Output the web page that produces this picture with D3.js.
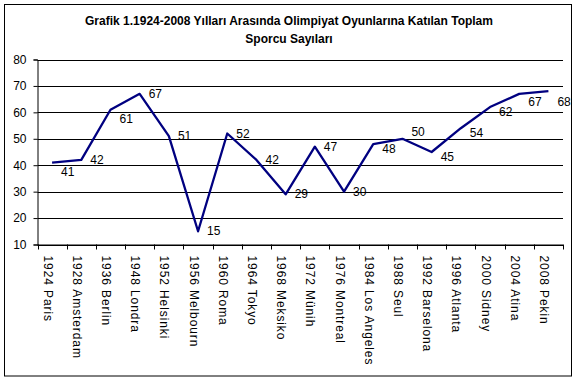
<!DOCTYPE html>
<html>
<head>
<meta charset="utf-8">
<script src="https://cdn.jsdelivr.net/npm/d3@7"></script>
<style>
  body { margin: 0; background: #fff; }
  svg text { font-family: Arial, "Liberation Sans", sans-serif; fill: #000; }
</style>
</head>
<body>
<div class="chart"></div>
<script>
// data
const games = ["1924 Paris", "1928 Amsterdam", "1936 Berlin", "1948 Londra", "1952 Helsinki",
  "1956 Melbourn", "1960 Roma", "1964 Tokyo", "1968 Meksiko", "1972 Münih", "1976 Montreal",
  "1984 Los Angeles", "1988 Seul", "1992 Barselona", "1996 Atlanta", "2000 Sidney",
  "2004 Atina", "2008 Pekin"];
const athletes = [41, 42, 61, 67, 51, 15, 52, 42, 29, 47, 30, 48, 50, 45, 54, 62, 67, 68];
const yTicks = [10, 20, 30, 40, 50, 60, 70, 80];
// vertical nudge of each data label (Excel placed some by hand)
const labelNudge = [9, 0, 9, 0, 0, 0, 0, 0, 0, 0, 0, 5, -7, 5, 5, 5, 8, 11];

const width = 576, height = 382;
const margin = {t:59.5, r:13, b:137.5, l:37.5};

const svg = d3.select(".chart").append("svg")
  .attr("width", width)
  .attr("height", height);

// outer frame
svg.append("rect")
  .attr("x", 4.5).attr("y", 4.5)
  .attr("width", 567).attr("height", 371.5)
  .attr("fill", "none").attr("stroke", "#000");

// title
const title = svg.append("text")
  .attr("text-anchor", "middle")
  .attr("font-size", 12)
  .attr("font-weight", "bold");
title.append("tspan").attr("x", 289).attr("y", 25)
  .text("Grafik 1.1924-2008 Yılları Arasında Olimpiyat Oyunlarına Katılan Toplam");
title.append("tspan").attr("x", 289).attr("y", 43)
  .text("Sporcu Sayıları");

const x = d3.scaleBand()
  .domain(games)
  .range([margin.l, width - margin.r]);

const y = d3.scaleLinear()
  .domain([10, 80])
  .range([height - margin.b, margin.t]);

// gridlines
svg.append("g")
  .selectAll("line")
  .data(yTicks)
  .join("line")
  .attr("x1", margin.l).attr("x2", width - margin.r)
  .attr("y1", d => Math.round(y(d)) + 0.5)
  .attr("y2", d => Math.round(y(d)) + 0.5)
  .attr("stroke", "#000");

// y axis
const yAxis = svg.append("g")
  .attr("transform", `translate(${margin.l},0)`)
  .call(d3.axisLeft(y).tickValues(yTicks).tickSize(4).tickPadding(7));
yAxis.selectAll("text").attr("font-size", 12).attr("font-family", null);
yAxis.selectAll("line").attr("stroke", "#000");
yAxis.select(".domain").attr("stroke", "#000");

// x axis: ticks between categories
const bottom = height - margin.b;
const xAxis = svg.append("g");
xAxis.append("line")
  .attr("x1", margin.l).attr("x2", width - margin.r)
  .attr("y1", bottom + 0.5).attr("y2", bottom + 0.5)
  .attr("stroke", "#000");
xAxis.selectAll(".tick")
  .data(games.concat([null]))
  .join("line")
  .attr("class", "tick")
  .attr("x1", (d, i) => Math.round(margin.l + i * x.step()) + 0.5)
  .attr("x2", (d, i) => Math.round(margin.l + i * x.step()) + 0.5)
  .attr("y1", bottom).attr("y2", bottom + 5)
  .attr("stroke", "#000");
xAxis.selectAll("text")
  .data(games)
  .join("text")
  .attr("transform", d => `translate(${x(d) + x.bandwidth() / 2},${bottom + 11}) rotate(90)`)
  .attr("y", 8.5)
  .attr("font-size", 12)
  .attr("letter-spacing", 0.9)
  .text(d => d);

// the line
const line = d3.line()
  .x((d, i) => x(games[i]) + x.bandwidth() / 2)
  .y(d => y(d));

svg.append("path")
  .datum(athletes)
  .attr("d", line)
  .attr("fill", "none")
  .attr("stroke", "#000080")
  .attr("stroke-width", 2.3)
  .attr("stroke-linejoin", "round");

// data labels
svg.append("g")
  .selectAll("text")
  .data(athletes)
  .join("text")
  .attr("x", (d, i) => x(games[i]) + x.bandwidth() / 2 + 9)
  .attr("y", (d, i) => y(d) + labelNudge[i])
  .attr("dy", "0.35em")
  .attr("font-size", 12)
  .text(d => d);
</script>
</body>
</html>
